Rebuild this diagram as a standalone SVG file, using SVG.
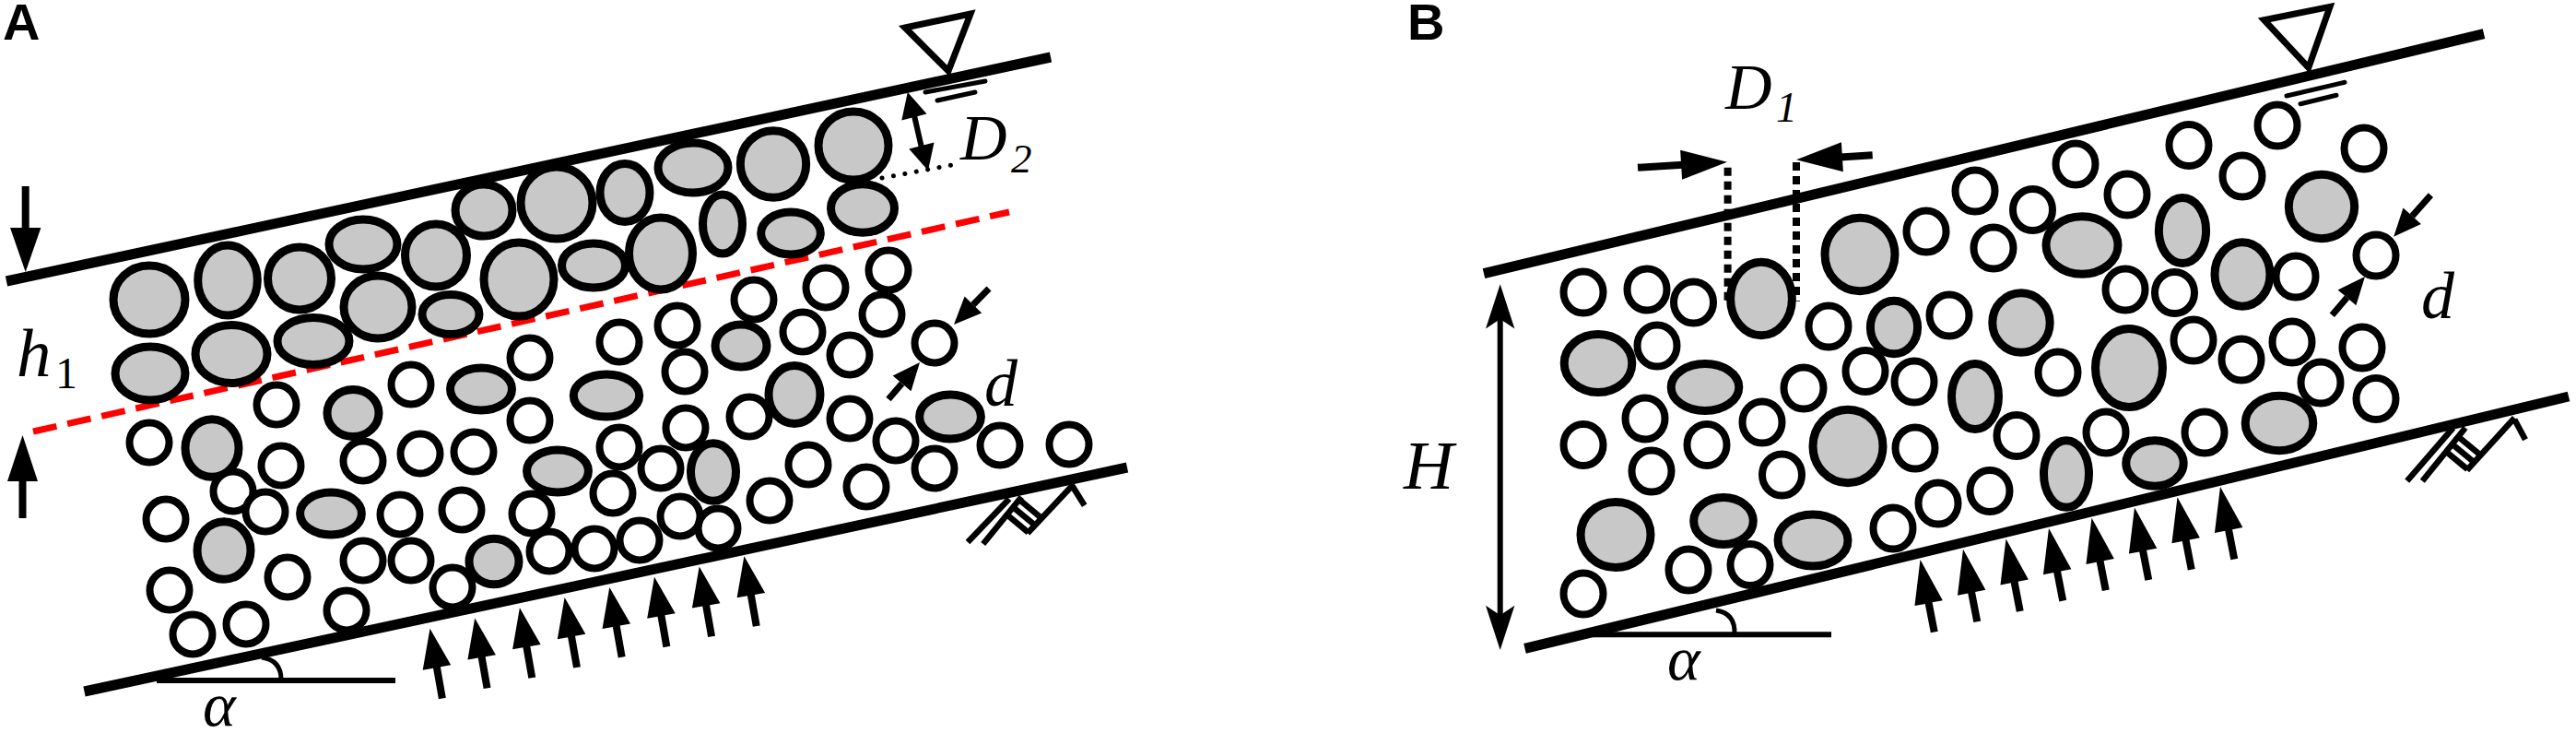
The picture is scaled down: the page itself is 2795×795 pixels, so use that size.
<svg xmlns="http://www.w3.org/2000/svg" xmlns:xlink="http://www.w3.org/1999/xlink" width="2795" height="795" viewBox="0 0 2795 795">
<style>
.bed{stroke:#000;stroke-width:11;fill:none}
.red{stroke:#ff0000;stroke-width:7;fill:none;stroke-dasharray:26 12}
.w{fill:#fff;stroke:#000;stroke-width:8}
.g{fill:#c8c8c8;stroke:#000;stroke-width:9}
.t{font-family:"Liberation Serif","Times New Roman",serif;font-style:italic;fill:#000}
.up{font-family:"Liberation Serif","Times New Roman",serif;fill:#000}
.lab{font-family:"Liberation Sans",Arial,sans-serif;font-weight:bold;font-size:56px;fill:#000}
.ln{stroke:#000;fill:none}
.hat{stroke:#000;stroke-width:6.5;fill:none}
.ah{fill:#000;stroke:none}
</style>
<defs>
<path id="ua" d="M0,0 L15.5,43 L4,43 L4,77 L-4,77 L-4,43 L-15.5,43 Z"/>
<path id="ub" d="M0,0 L15.5,48 L4,48 L4,80 L-4,80 L-4,48 L-15.5,48 Z"/>
</defs>
<rect x="0" y="0" width="2795" height="795" fill="#fff"/>

<g id="panelA">
<text class="lab" x="3" y="43">A</text>
<line id="A-red" class="red" x1="36" y1="468" x2="1095" y2="230"/>
<g id="A-particles">
<g id="A-gray">
<ellipse class="g" cx="162" cy="325" rx="39" ry="37"/>
<ellipse class="g" cx="247" cy="304" rx="32.3" ry="38"/>
<ellipse class="g" cx="325" cy="302" rx="34.5" ry="34"/>
<ellipse class="g" cx="394" cy="265" rx="37" ry="27"/>
<ellipse class="g" cx="410" cy="333" rx="37" ry="34"/>
<ellipse class="g" cx="473" cy="277" rx="33.5" ry="34"/>
<ellipse class="g" cx="489" cy="341" rx="31" ry="21.5"/>
<ellipse class="g" cx="525" cy="228" rx="31" ry="28"/>
<ellipse class="g" cx="563" cy="303" rx="38" ry="40"/>
<ellipse class="g" cx="604" cy="220" rx="39" ry="39"/>
<ellipse class="g" cx="644" cy="288" rx="34.5" ry="24"/>
<ellipse class="g" cx="678" cy="209" rx="27" ry="31.5"/>
<ellipse class="g" cx="717" cy="275" rx="34.5" ry="39"/>
<ellipse class="g" cx="752" cy="182" rx="38" ry="27"/>
<ellipse class="g" cx="839" cy="178" rx="35.7" ry="36.3"/>
<ellipse class="g" cx="926" cy="158" rx="38" ry="37"/>
<ellipse class="g" cx="784" cy="243" rx="21.5" ry="32"/>
<ellipse class="g" cx="858" cy="253" rx="32.3" ry="23"/>
<ellipse class="g" cx="936" cy="226" rx="34.5" ry="26.3"/>
<ellipse class="g" cx="163" cy="405" rx="38" ry="29"/>
<ellipse class="g" cx="251" cy="384" rx="39" ry="31.5"/>
<ellipse class="g" cx="340" cy="370" rx="39" ry="25.5"/>
<ellipse class="g" cx="522" cy="422" rx="33.5" ry="23"/>
<ellipse class="g" cx="658" cy="429" rx="35.7" ry="23"/>
<ellipse class="g" cx="383" cy="448" rx="28" ry="25.5"/>
<ellipse class="g" cx="230" cy="486" rx="29" ry="31.3"/>
<ellipse class="g" cx="605" cy="511" rx="33.4" ry="23"/>
<ellipse class="g" cx="359" cy="557" rx="33.4" ry="23"/>
<ellipse class="g" cx="243" cy="597" rx="29" ry="31.3"/>
<ellipse class="g" cx="536" cy="609" rx="27" ry="24.7"/>
<ellipse class="g" cx="804" cy="375" rx="28" ry="23"/>
<ellipse class="g" cx="862" cy="428" rx="28" ry="31.5"/>
<ellipse class="g" cx="1031" cy="452" rx="33.4" ry="24"/>
<ellipse class="g" cx="774" cy="512" rx="24.5" ry="31.3"/>
</g>
<g id="A-white">
<circle class="w" cx="575" cy="388" r="21.5"/>
<circle class="w" cx="672" cy="371" r="21.5"/>
<circle class="w" cx="446" cy="417" r="21.5"/>
<circle class="w" cx="300" cy="439" r="21.5"/>
<circle class="w" cx="575" cy="456" r="21.5"/>
<circle class="w" cx="162" cy="480" r="21.5"/>
<circle class="w" cx="305" cy="505" r="21.5"/>
<circle class="w" cx="394" cy="500" r="21.5"/>
<circle class="w" cx="456" cy="492" r="21.5"/>
<circle class="w" cx="514" cy="490" r="21.5"/>
<circle class="w" cx="672" cy="485" r="21.5"/>
<circle class="w" cx="665" cy="535" r="21.5"/>
<circle class="w" cx="253" cy="533" r="21.5"/>
<circle class="w" cx="180" cy="563" r="21.5"/>
<circle class="w" cx="288" cy="555" r="21.5"/>
<circle class="w" cx="434" cy="558" r="21.5"/>
<circle class="w" cx="501" cy="553" r="21.5"/>
<circle class="w" cx="577" cy="557" r="21.5"/>
<circle class="w" cx="394" cy="608" r="21.5"/>
<circle class="w" cx="446" cy="608" r="21.5"/>
<circle class="w" cx="596" cy="598" r="21.5"/>
<circle class="w" cx="645" cy="595" r="21.5"/>
<circle class="w" cx="184" cy="640" r="21.5"/>
<circle class="w" cx="312" cy="626" r="21.5"/>
<circle class="w" cx="491" cy="637" r="21.5"/>
<circle class="w" cx="376" cy="662" r="21.5"/>
<circle class="w" cx="209" cy="688" r="21.5"/>
<circle class="w" cx="267" cy="677" r="21.5"/>
<circle class="w" cx="735" cy="353" r="21.5"/>
<circle class="w" cx="818" cy="325" r="21.5"/>
<circle class="w" cx="896" cy="312" r="21.5"/>
<circle class="w" cx="964" cy="293" r="21.5"/>
<circle class="w" cx="957" cy="341" r="21.5"/>
<circle class="w" cx="871" cy="360" r="21.5"/>
<circle class="w" cx="1014" cy="372" r="21.5"/>
<circle class="w" cx="743" cy="403" r="21.5"/>
<circle class="w" cx="922" cy="385" r="21.5"/>
<circle class="w" cx="744" cy="464" r="21.5"/>
<circle class="w" cx="813" cy="452" r="21.5"/>
<circle class="w" cx="922" cy="454" r="21.5"/>
<circle class="w" cx="972" cy="478" r="21.5"/>
<circle class="w" cx="1085" cy="483" r="21.5"/>
<circle class="w" cx="1160" cy="482" r="21.5"/>
<circle class="w" cx="717" cy="508" r="21.5"/>
<circle class="w" cx="877" cy="504" r="21.5"/>
<circle class="w" cx="1014" cy="508" r="21.5"/>
<circle class="w" cx="835" cy="543" r="21.5"/>
<circle class="w" cx="940" cy="528" r="21.5"/>
<circle class="w" cx="738" cy="560" r="21.5"/>
<circle class="w" cx="779" cy="573" r="21.5"/>
<circle class="w" cx="694" cy="586" r="21.5"/>
</g>
</g>
<g id="A-boundaries">
<line class="bed" x1="7" y1="305" x2="1140" y2="62"/>
<line class="bed" x1="91.5" y1="750" x2="1223" y2="507"/>
<line class="ln" stroke-width="6" x1="170" y1="738" x2="429" y2="738"/>
<path class="ln" stroke-width="5" d="M284 713 Q305 716 305 737"/>
<polygon points="982,30 1053,15 1029,77" fill="none" stroke="#000" stroke-width="7" stroke-linejoin="miter"/>
<line class="ln" stroke-width="5" stroke-linecap="round" x1="1004" y1="100" x2="1069" y2="88"/>
<line class="ln" stroke-width="5" stroke-linecap="round" x1="1017" y1="109" x2="1058" y2="100"/>
<g id="A-wall">
<line class="hat" x1="1050" y1="588" x2="1095" y2="541"/>
<line class="hat" x1="1066.7" y1="590" x2="1108.3" y2="539"/>
<line class="hat" x1="1115" y1="578.3" x2="1165" y2="525"/>
<line class="hat" x1="1163.3" y1="526.7" x2="1176.7" y2="548.3"/>
<line class="hat" x1="1092.9" y1="558.5" x2="1115.7" y2="577.4"/>
<line class="hat" x1="1099.7" y1="550.4" x2="1122.5" y2="569.3"/>
<line class="hat" x1="1106.4" y1="542.3" x2="1129.2" y2="561.2"/>
</g>
</g>
<g id="A-connectors">
<line class="ln" stroke-width="8" x1="27.7" y1="202" x2="27.7" y2="250"/>
<polygon class="ah" points="27.7,295 11,247 44.4,247"/>
<line class="ln" stroke-width="8" x1="24.5" y1="518" x2="24.5" y2="562"/>
<polygon class="ah" points="24.5,472 8,522 41,522"/>
<line class="ln" stroke-width="6" x1="991.9" y1="125" x2="999.9" y2="160"/>
<polygon class="ah" points="984.8,100 1005.5,123.6 978.3,130.6"/>
<polygon class="ah" points="1007,185 1013.5,154.4 986.3,161.4"/>
<line class="ln" stroke-width="5" stroke-linecap="round" stroke-dasharray="0.1 12.5" x1="957" y1="193" x2="1033" y2="179"/>
<line class="ln" stroke-width="7" x1="1073" y1="313" x2="1055.9" y2="330.5"/>
<polygon class="ah" points="1035,352 1065.2,339.6 1046.6,321.4"/>
<line class="ln" stroke-width="7" x1="964" y1="433" x2="978.6" y2="415.9"/>
<polygon class="ah" points="998,393 988.5,424.3 968.7,407.5"/>
<use xlink:href="#ua" transform="translate(466.5,681.7) rotate(-10)"/>
<use xlink:href="#ua" transform="translate(515.2,670.5) rotate(-10)"/>
<use xlink:href="#ua" transform="translate(563.9,659.3) rotate(-10)"/>
<use xlink:href="#ua" transform="translate(612.6,648.1) rotate(-10)"/>
<use xlink:href="#ua" transform="translate(661.3,636.9) rotate(-10)"/>
<use xlink:href="#ua" transform="translate(710,625.7) rotate(-10)"/>
<use xlink:href="#ua" transform="translate(758.7,614.5) rotate(-10)"/>
<use xlink:href="#ua" transform="translate(807.4,603.3) rotate(-10)"/>
</g>
<g id="A-labels">
<text class="t" x="18" y="408" font-size="75">h</text>
<text class="up" x="60" y="421" font-size="48">1</text>
<text class="t" x="1042" y="173" font-size="70">D</text>
<text class="t" x="1097" y="187" font-size="45">2</text>
<text class="t" x="1068" y="440" font-size="72">d</text>
<text class="t" x="220" y="787" font-size="68">α</text>
</g>
</g>

<g id="panelB">
<text class="lab" x="1527" y="43">B</text>
<g id="B-particles">
<g id="B-gray">
<ellipse class="g" cx="1911" cy="324" rx="33.4" ry="39.7"/>
<ellipse class="g" cx="2018" cy="276" rx="38" ry="39.7"/>
<ellipse class="g" cx="2055" cy="355" rx="25.6" ry="28.8"/>
<ellipse class="g" cx="2519" cy="224" rx="35.7" ry="34.7"/>
<ellipse class="g" cx="2259" cy="266" rx="39" ry="31.3"/>
<ellipse class="g" cx="2368" cy="250" rx="25.6" ry="35.5"/>
<ellipse class="g" cx="2433" cy="297.5" rx="30" ry="34.7"/>
<ellipse class="g" cx="2193" cy="350" rx="31.2" ry="32.2"/>
<ellipse class="g" cx="2310" cy="399" rx="36.5" ry="42.5"/>
<ellipse class="g" cx="2143" cy="430" rx="25.5" ry="35.5"/>
<ellipse class="g" cx="2473" cy="459" rx="36.8" ry="29.7"/>
<ellipse class="g" cx="2242" cy="514" rx="24.5" ry="36.3"/>
<ellipse class="g" cx="2338" cy="502.5" rx="31.2" ry="24.7"/>
<ellipse class="g" cx="1734" cy="394" rx="36.8" ry="31.5"/>
<ellipse class="g" cx="1850" cy="420" rx="36.8" ry="25.5"/>
<ellipse class="g" cx="2005" cy="484" rx="38" ry="39.7"/>
<ellipse class="g" cx="1753" cy="580" rx="38" ry="35.5"/>
<ellipse class="g" cx="1870" cy="565" rx="32.3" ry="25.5"/>
<ellipse class="g" cx="1967" cy="586" rx="38" ry="28"/>
</g>
<g id="B-white">
<ellipse class="w" cx="1718" cy="317" rx="21.5" ry="22.5"/>
<ellipse class="w" cx="1787" cy="314" rx="21.5" ry="22.5"/>
<ellipse class="w" cx="1837.5" cy="328" rx="21.5" ry="22.5"/>
<ellipse class="w" cx="2090" cy="251" rx="21.5" ry="22.5"/>
<ellipse class="w" cx="1984" cy="354" rx="21.5" ry="22.5"/>
<ellipse class="w" cx="2143" cy="207" rx="21.5" ry="22.5"/>
<ellipse class="w" cx="2205.5" cy="227.5" rx="21.5" ry="22.5"/>
<ellipse class="w" cx="2252" cy="178" rx="21.5" ry="22.5"/>
<ellipse class="w" cx="2308" cy="211" rx="21.5" ry="22.5"/>
<ellipse class="w" cx="2375" cy="157.5" rx="21.5" ry="22.5"/>
<ellipse class="w" cx="2471" cy="136" rx="21.5" ry="22.5"/>
<ellipse class="w" cx="2433" cy="191" rx="21.5" ry="22.5"/>
<ellipse class="w" cx="2565" cy="161" rx="21.5" ry="22.5"/>
<ellipse class="w" cx="2578" cy="277" rx="21.5" ry="22.5"/>
<ellipse class="w" cx="2163" cy="269" rx="21.5" ry="22.5"/>
<ellipse class="w" cx="2491" cy="300" rx="21.5" ry="22.5"/>
<ellipse class="w" cx="2306" cy="314" rx="21.5" ry="22.5"/>
<ellipse class="w" cx="2359.5" cy="317.5" rx="21.5" ry="22.5"/>
<ellipse class="w" cx="2115" cy="342" rx="21.5" ry="22.5"/>
<ellipse class="w" cx="2380" cy="369" rx="21.5" ry="22.5"/>
<ellipse class="w" cx="2487" cy="371" rx="21.5" ry="22.5"/>
<ellipse class="w" cx="2563" cy="377" rx="21.5" ry="22.5"/>
<ellipse class="w" cx="2233" cy="404" rx="21.5" ry="22.5"/>
<ellipse class="w" cx="2432" cy="390" rx="21.5" ry="22.5"/>
<ellipse class="w" cx="2518" cy="415" rx="21.5" ry="22.5"/>
<ellipse class="w" cx="2578" cy="432.5" rx="21.5" ry="22.5"/>
<ellipse class="w" cx="2188" cy="472.5" rx="21.5" ry="22.5"/>
<ellipse class="w" cx="2285" cy="469" rx="21.5" ry="22.5"/>
<ellipse class="w" cx="2392" cy="469" rx="21.5" ry="22.5"/>
<ellipse class="w" cx="2159" cy="532.5" rx="21.5" ry="22.5"/>
<ellipse class="w" cx="2103" cy="546" rx="21.5" ry="22.5"/>
<ellipse class="w" cx="1798" cy="375" rx="21.5" ry="22.5"/>
<ellipse class="w" cx="1957" cy="421" rx="21.5" ry="22.5"/>
<ellipse class="w" cx="2024" cy="402.5" rx="21.5" ry="22.5"/>
<ellipse class="w" cx="2077" cy="414" rx="21.5" ry="22.5"/>
<ellipse class="w" cx="1785" cy="454" rx="21.5" ry="22.5"/>
<ellipse class="w" cx="1912" cy="458" rx="21.5" ry="22.5"/>
<ellipse class="w" cx="2078" cy="486" rx="21.5" ry="22.5"/>
<ellipse class="w" cx="1718" cy="482.5" rx="21.5" ry="22.5"/>
<ellipse class="w" cx="1852" cy="482.5" rx="21.5" ry="22.5"/>
<ellipse class="w" cx="1792" cy="511" rx="21.5" ry="22.5"/>
<ellipse class="w" cx="1933.5" cy="515" rx="21.5" ry="22.5"/>
<ellipse class="w" cx="2054" cy="573" rx="21.5" ry="22.5"/>
<ellipse class="w" cx="1832" cy="618" rx="21.5" ry="22.5"/>
<ellipse class="w" cx="1899" cy="612.5" rx="21.5" ry="22.5"/>
<ellipse class="w" cx="1718" cy="644" rx="21.5" ry="22.5"/>
</g>
</g>
<g id="B-boundaries">
<line class="bed" x1="1610" y1="296.7" x2="2695" y2="36.7"/>
<line class="bed" x1="1654.5" y1="703.3" x2="2787" y2="430"/>
<line class="ln" stroke-width="6" x1="1728" y1="688.3" x2="1987" y2="688.3"/>
<path class="ln" stroke-width="5" d="M1862 662 Q1883 665 1882 688"/>
<polygon points="2456.6,21.7 2528,7.3 2504.8,73.3" fill="none" stroke="#000" stroke-width="7" stroke-linejoin="miter"/>
<line class="ln" stroke-width="5" stroke-linecap="round" x1="2481" y1="104" x2="2544" y2="89.3"/>
<line class="ln" stroke-width="5" stroke-linecap="round" x1="2496" y1="112.7" x2="2535" y2="103.3"/>
<line class="ln" stroke-width="8" stroke-dasharray="9 6" x1="1874.6" y1="181.7" x2="1874.6" y2="331.7"/>
<line class="ln" stroke-width="8" stroke-dasharray="9 6" x1="1949" y1="176" x2="1949" y2="326.7"/>
<g id="B-wall">
<line class="hat" x1="2611.7" y1="521.7" x2="2661.7" y2="464"/>
<line class="hat" x1="2628.3" y1="521.7" x2="2675" y2="464"/>
<line class="hat" x1="2676.7" y1="510" x2="2728.3" y2="453.3"/>
<line class="hat" x1="2728.3" y1="455" x2="2740" y2="476.7"/>
<line class="hat" x1="2654.3" y1="490.1" x2="2677.3" y2="509.1"/>
<line class="hat" x1="2661" y1="482" x2="2684" y2="501"/>
<line class="hat" x1="2667.7" y1="473.9" x2="2690.7" y2="492.9"/>
</g>
</g>
<g id="B-connectors">
<line class="ln" stroke-width="6" x1="1627.7" y1="345" x2="1627.7" y2="668"/>
<polygon class="ah" points="1627.7,308.3 1643.4,356.5 1627.7,346 1612,356.5"/>
<polygon class="ah" points="1627.7,705 1643.4,656.8 1627.7,667.3 1612,656.8"/>
<line class="ln" stroke-width="8" x1="1777" y1="181.7" x2="1826" y2="178.7"/>
<polygon class="ah" points="1874,175.7 1825.1,194.8 1823.1,162.8"/>
<line class="ln" stroke-width="8" x1="2031.7" y1="168.3" x2="1997" y2="170.4"/>
<polygon class="ah" points="1949,173.3 1999.9,186.3 1997.9,154.3"/>
<line class="ln" stroke-width="7" x1="2637.4" y1="211.7" x2="2617.2" y2="234.3"/>
<polygon class="ah" points="2597.2,256.7 2626.9,243 2607.5,225.6"/>
<line class="ln" stroke-width="7" x1="2530.3" y1="341.7" x2="2546.5" y2="322.8"/>
<polygon class="ah" points="2566,300 2556.4,331.3 2536.6,314.4"/>
<use xlink:href="#ub" transform="translate(2083.5,607) rotate(-11)"/>
<use xlink:href="#ub" transform="translate(2130,595.7) rotate(-11)"/>
<use xlink:href="#ub" transform="translate(2176.5,584.4) rotate(-11)"/>
<use xlink:href="#ub" transform="translate(2223,573.1) rotate(-11)"/>
<use xlink:href="#ub" transform="translate(2269.5,561.8) rotate(-11)"/>
<use xlink:href="#ub" transform="translate(2316,550.5) rotate(-11)"/>
<use xlink:href="#ub" transform="translate(2362.5,539.2) rotate(-11)"/>
<use xlink:href="#ub" transform="translate(2409,527.9) rotate(-11)"/>
</g>
<g id="B-labels">
<text class="t" x="1872" y="118" font-size="70">D</text>
<text class="t" x="1927" y="132" font-size="46">1</text>
<text class="t" x="1523" y="530" font-size="75">H</text>
<text class="t" x="1809" y="737" font-size="68">α</text>
<text class="t" x="2627" y="345" font-size="72">d</text>
</g>
</g>
</svg>
